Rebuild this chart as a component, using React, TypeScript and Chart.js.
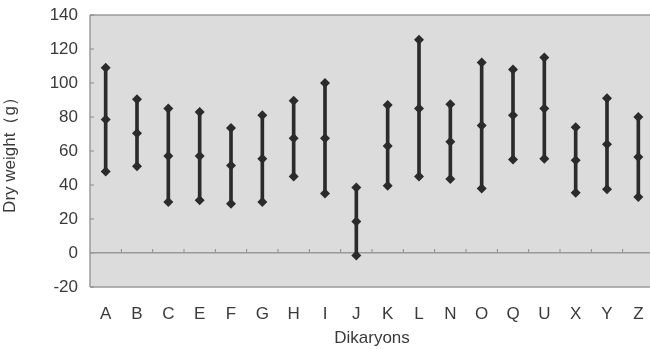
import React, { useEffect, useRef } from "react";
import { Chart, registerables } from "chart.js";

Chart.register(...registerables);

const categories = ["A", "B", "C", "E", "F", "G", "H", "I", "J", "K", "L", "N", "O", "Q", "U", "X", "Y", "Z"];
const maxValues = [109, 90.5, 85, 83, 73.5, 81, 89.5, 100, 38.5, 87, 125.5, 87.5, 112, 108, 115, 74, 91, 80];
const meanValues = [78.5, 70.5, 57, 57, 51.5, 55.5, 67.5, 67.5, 18.5, 63, 85, 65.5, 75, 81, 85, 54.5, 64, 56.5];
const minValues = [48, 51, 30, 31, 29, 30, 45, 35, -1.5, 39.5, 45, 43.5, 38, 55, 55.5, 35.5, 37.5, 33];
const yTicks = { min: -20, max: 140, step: 20 };

const FONT = "'Liberation Sans', Arial, sans-serif";
const INK = "#2b2b2b";
const TEXT = "#3a3a3a";

const plotBg = {
  id: "plotBg",
  beforeDraw(chart: any) {
    const { ctx, chartArea: a } = chart;
    ctx.save();
    ctx.fillStyle = "#dcdcdc";
    ctx.fillRect(a.left, a.top, a.right - a.left, a.bottom - a.top);
    ctx.strokeStyle = "#9a9a9a";
    ctx.lineWidth = 1.5;
    ctx.beginPath();
    ctx.moveTo(a.left, a.top);
    ctx.lineTo(a.right, a.top);
    ctx.moveTo(a.left, a.bottom);
    ctx.lineTo(a.right, a.bottom);
    ctx.moveTo(a.left, a.top);
    ctx.lineTo(a.left, a.bottom);
    ctx.stroke();
    const x = chart.scales.x;
    const y0 = chart.scales.y.getPixelForValue(0);
    ctx.strokeStyle = "#8a8a8a";
    ctx.lineWidth = 1;
    ctx.beginPath();
    for (let i = 0; i < categories.length - 1; i++) {
      const bx = (x.getPixelForValue(i) + x.getPixelForValue(i + 1)) / 2;
      ctx.moveTo(bx, y0);
      ctx.lineTo(bx, y0 - 4);
    }
    const ys = chart.scales.y;
    for (let v = yTicks.min; v <= yTicks.max; v += yTicks.step) {
      const py = ys.getPixelForValue(v);
      ctx.moveTo(a.left, py);
      ctx.lineTo(a.left + 4, py);
    }
    ctx.stroke();
    ctx.restore();
  },
};

const markerDataset = (label: string, data: number[]) => ({
  type: "line" as const,
  label,
  data,
  showLine: false,
  pointStyle: "rectRot",
  pointRadius: 5,
  pointBackgroundColor: INK,
  pointBorderColor: INK,
  pointBorderWidth: 0,
  order: 0,
});

export default function App() {
  const ref = useRef<HTMLCanvasElement>(null);
  useEffect(() => {
    if (!ref.current) return;
    const chart = new Chart(ref.current, {
      type: "bar",
      data: {
        labels: categories,
        datasets: [
          {
            type: "bar",
            label: "range",
            data: categories.map((_, i) => [minValues[i], maxValues[i]]),
            backgroundColor: INK,
            barThickness: 3,
            order: 1,
          } as any,
          markerDataset("max", maxValues),
          markerDataset("mean", meanValues),
          markerDataset("min", minValues),
        ],
      },
      options: {
        animation: false,
        responsive: false,
        maintainAspectRatio: false,
        layout: { padding: { top: 15, right: 6, left: 0, bottom: 0 } },
        plugins: { legend: { display: false }, tooltip: { enabled: false } },
        scales: {
          x: {
            grid: { display: false, drawTicks: false },
            border: { display: false },
            ticks: { color: TEXT, font: { family: FONT, size: 17 }, padding: 17, maxRotation: 0 },
            title: { display: true, text: "Dikaryons", color: TEXT, font: { family: FONT, size: 17 }, padding: { top: 0, bottom: 0 } },
            afterFit: (s: any) => { s.height = 62; s.paddingLeft = 0; s.paddingRight = 0; },
          },
          y: {
            min: yTicks.min,
            max: yTicks.max,
            ticks: { stepSize: yTicks.step, color: TEXT, font: { family: FONT, size: 17 }, padding: 12 },
            grid: {
              drawTicks: false,
              color: (c: any) => (c.tick && c.tick.value === 0 ? "#9a9a9a" : "transparent"),
              lineWidth: 1.5,
            },
            border: { display: false },
            title: { display: true, text: "Dry weight（g）", color: TEXT, font: { family: FONT, size: 17 }, padding: { top: 0, bottom: 0 } },
            afterFit: (s: any) => { s.width = 90; s.paddingTop = 0; s.paddingBottom = 0; },
          },
        },
      },
      plugins: [plotBg],
    });
    return () => chart.destroy();
  }, []);
  return (
    <div style={{ position: "fixed", left: 0, top: 0, width: 650, height: 349, overflow: "hidden", background: "#fff" }}>
      <canvas ref={ref} width={660} height={349} style={{ display: "block", width: 660, height: 349 }} />
    </div>
  );
}
